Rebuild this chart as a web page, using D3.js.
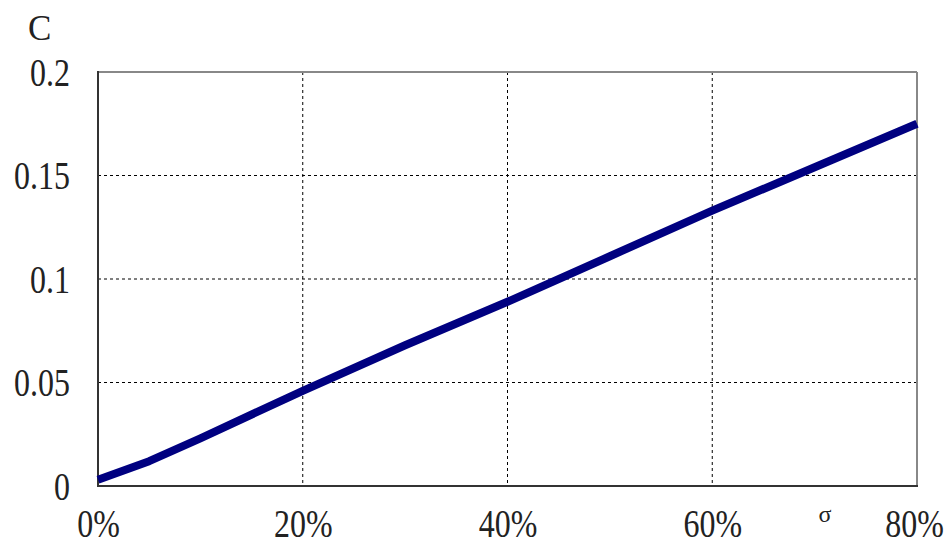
<!DOCTYPE html>
<html>
<head>
<meta charset="utf-8">
<script src="https://cdn.jsdelivr.net/npm/d3@7"></script>
<style>
  body { margin: 0; background: #fff; }
  text { font-family: "Liberation Serif", "DejaVu Serif", serif; fill: #222; }
</style>
</head>
<body>
<svg width="951" height="549"></svg>
<script>
// Data
let sigma = [0, 0.05, 0.10, 0.20, 0.30, 0.40, 0.50, 0.60, 0.70, 0.80];
let cValues = [0.003, 0.012, 0.023, 0.046, 0.068, 0.089, 0.111, 0.133, 0.154, 0.175];
let xTicks = [0, 0.2, 0.4, 0.6, 0.8];
let yTicks = [0, 0.05, 0.1, 0.15, 0.2];

let svg = d3.select('svg');

// Plot area
let plotLeft = 98, plotRight = 917, plotTop = 72, plotBottom = 486;

let x = d3.scaleLinear().domain([0, 0.8]).range([plotLeft, plotRight]);
let y = d3.scaleLinear().domain([0, 0.2]).range([plotBottom, plotTop]);

// Dashed grid lines
let grid = svg.append('g').attr('class', 'grid');
grid.selectAll('line.v')
  .data(xTicks.slice(1, -1))
  .enter().append('line')
    .attr('class', 'v')
    .attr('x1', d => x(d)).attr('x2', d => x(d))
    .attr('y1', plotTop).attr('y2', plotBottom)
    .attr('stroke', '#000')
    .attr('stroke-width', 1)
    .attr('stroke-dasharray', '3,3');
grid.selectAll('line.h')
  .data(yTicks.slice(1, -1))
  .enter().append('line')
    .attr('class', 'h')
    .attr('x1', plotLeft).attr('x2', plotRight)
    .attr('y1', d => y(d)).attr('y2', d => y(d))
    .attr('stroke', '#000')
    .attr('stroke-width', 1)
    .attr('stroke-dasharray', '3,3');

// Frame: top/right light grey, left/bottom dark
svg.append('line')
  .attr('x1', plotLeft).attr('x2', plotRight).attr('y1', plotTop).attr('y2', plotTop)
  .attr('stroke', '#888').attr('stroke-width', 2);
svg.append('line')
  .attr('x1', plotRight).attr('x2', plotRight).attr('y1', plotTop).attr('y2', plotBottom)
  .attr('stroke', '#888').attr('stroke-width', 2);
svg.append('line')
  .attr('x1', plotLeft).attr('x2', plotLeft).attr('y1', plotTop - 1).attr('y2', plotBottom + 1)
  .attr('stroke', '#333').attr('stroke-width', 2);
svg.append('line')
  .attr('x1', plotLeft - 1).attr('x2', plotRight + 1).attr('y1', plotBottom).attr('y2', plotBottom)
  .attr('stroke', '#333').attr('stroke-width', 2);

// Data line
let line = d3.line()
  .x((d, i) => x(sigma[i]))
  .y(d => y(d));

svg.append('path')
  .datum(cValues)
  .attr('d', line)
  .attr('fill', 'none')
  .attr('stroke', '#000080')
  .attr('stroke-width', 8)
  .attr('stroke-linejoin', 'round');

// Axes (labels only, no tick marks)
let yAxis = svg.append('g')
  .attr('transform', 'translate(' + (plotLeft - 28) + ',0)')
  .call(d3.axisLeft(y).tickValues(yTicks).tickSize(0).tickPadding(0)
    .tickFormat(d => String(+d.toFixed(2))));
yAxis.select('.domain').remove();
yAxis.selectAll('text')
  .attr('x', null).attr('dy', null)
  .attr('dominant-baseline', 'central')
  .attr('transform', 'scale(0.82,1)')
  .style('font-size', '39px');

let xAxis = svg.append('g')
  .attr('transform', 'translate(0,' + (plotBottom + 51) + ')')
  .call(d3.axisBottom(x).tickValues(xTicks).tickSize(0).tickPadding(0)
    .tickFormat(d3.format('.0%')));
xAxis.select('.domain').remove();
xAxis.selectAll('.tick text')
  .attr('y', null).attr('dy', null)
  .attr('text-anchor', 'middle')
  .attr('transform', 'scale(0.82,1)')
  .style('font-size', '39px');
// the 80% label sits slightly left because it hits the edge
xAxis.selectAll('.tick text').filter(d => d === 0.8).attr('x', -3 / 0.82);

// Axis titles
svg.append('text')
  .attr('x', 28).attr('y', 40)
  .style('font-size', '35px')
  .text('C');

svg.append('text')
  .attr('x', 825).attr('y', 522)
  .attr('text-anchor', 'middle')
  .style('font-size', '24px')
  .text('σ');
</script>
</body>
</html>
